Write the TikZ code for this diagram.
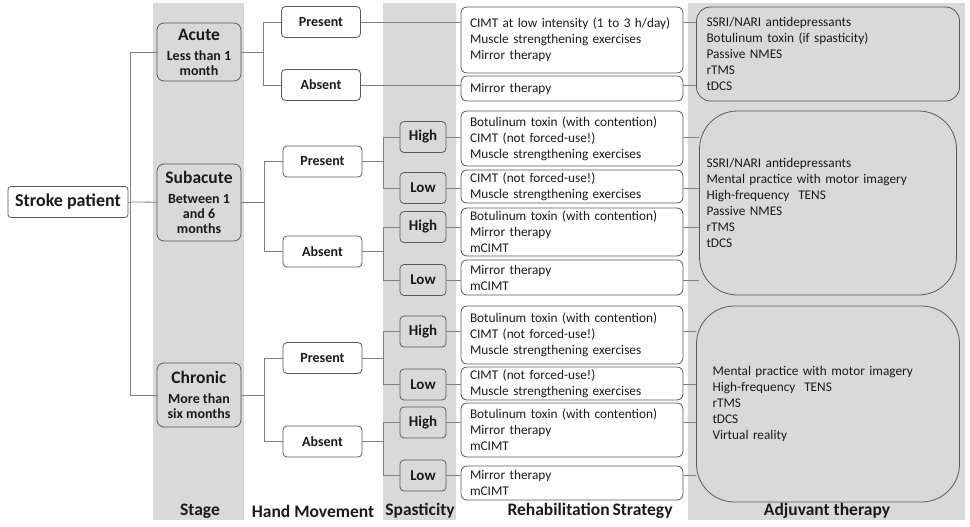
\documentclass[tikz,border=0pt]{standalone}
\usepackage{fontspec}
\setmainfont{Carlito}
\usetikzlibrary{shapes}
\definecolor{bandgrey}{HTML}{D9D9D9}
\definecolor{edgegrey}{HTML}{595959}
\definecolor{linegrey}{HTML}{7F7F7F}
\definecolor{inkgrey}{HTML}{1A1A1A}
\newcommand\stagefont{\fontsize{17.5}{20}\selectfont\bfseries}
\newcommand\stagesub{\fontsize{14}{15}\selectfont\bfseries}

\begin{document}
\begin{tikzpicture}[x=1pt,y=-1pt,text=inkgrey,
  root/.style={shape=rectangle,draw=edgegrey,line width=0.8pt,rounded corners=3pt,fill=white,minimum width=120pt,minimum height=31pt,font=\fontsize{18}{20}\selectfont\bfseries},
  stage/.style={shape=rectangle,draw=edgegrey,line width=0.8pt,rounded corners=7pt,fill=bandgrey,align=center,minimum width=84pt,inner sep=1pt,font=\stagesub},
  hand/.style={shape=rectangle,draw=edgegrey,line width=0.8pt,rounded corners=4pt,fill=white,minimum width=79pt,minimum height=31pt,font=\fontsize{14}{16}\selectfont\bfseries},
  spast/.style={shape=rectangle,draw=edgegrey,line width=0.8pt,rounded corners=4pt,fill=bandgrey,minimum width=46pt,minimum height=31pt,inner sep=1pt,font=\fontsize{15}{17}\selectfont\bfseries},
  rehab/.style={shape=rectangle,draw=edgegrey,line width=0.8pt,rounded corners=6pt,fill=white,text width=204pt,inner xsep=9pt,inner ysep=1pt,align=left,font=\fontsize{13.3}{16}\selectfont},
  adjuv/.style={shape=rectangle,draw=edgegrey,line width=0.8pt,fill=bandgrey,text width=243pt,inner xsep=10pt,align=left,font=\fontsize{13.3}{16}\selectfont},
  collabel/.style={font=\fontsize{17.5}{20}\selectfont\bfseries},
  conn/.style={-,draw=linegrey,line width=0.8pt},
  elbow/.style={to path={|- (\tikztotarget)}}]
\useasboundingbox (0,0) rectangle (970,527);

% column bands
\fill[bandgrey] (153,3) rectangle (244,520);
\fill[bandgrey] (383,3) rectangle (456,520);
\fill[bandgrey] (688,3) rectangle (965,520);

% stroke patient and stages
\node[root] (stroke) at (68,202) {Stroke patient};
\node[stage,minimum height=58pt] (acute) at (199,52) {{\stagefont Acute}\\[5pt]Less than 1\\month};
\node[stage,minimum height=77pt] (subacute) at (199,202.5) {{\stagefont Subacute}\\[5pt]Between 1\\and 6\\months};
\node[stage,minimum height=64pt] (chronic) at (199,395) {{\stagefont Chronic}\\[5pt]More than\\six months};

% hand movement
\node[hand] (ap) at (321,22) {Present};
\node[hand] (aa) at (321,85) {Absent};
\node[hand] (sp) at (322.5,161.5) {Present};
\node[hand] (sa) at (322.5,251.5) {Absent};
\node[hand] (cp) at (322.5,358) {Present};
\node[hand] (ca) at (322.5,441.5) {Absent};

% spasticity
\node[spast] (sph) at (423,137) {High};
\node[spast] (spl) at (423,188) {Low};
\node[spast] (sah) at (423,227) {High};
\node[spast] (sal) at (423,280) {Low};
\node[spast] (cph) at (423,331.5) {High};
\node[spast] (cpl) at (423,384.5) {Low};
\node[spast] (cah) at (423,422.5) {High};
\node[spast] (cal) at (423,475.5) {Low};

% rehabilitation strategy
\node[rehab,minimum height=66pt] (r1) at (572,40) {CIMT at low intensity (1 to 3 h/day)\\Muscle strengthening exercises\\Mirror therapy};
\node[rehab,minimum height=25pt] (r2) at (572,88.5) {Mirror therapy};
\node[rehab,minimum height=55pt] (r3) at (572,138.5) {Botulinum toxin (with contention)\\CIMT (not forced-use!)\\Muscle strengthening exercises};
\node[rehab,minimum height=33pt] (r4) at (572,186.5) {CIMT (not forced-use!)\\Muscle strengthening exercises};
\node[rehab,minimum height=48pt] (r5) at (572,232) {Botulinum toxin (with contention)\\Mirror therapy\\mCIMT};
\node[rehab,minimum height=35pt] (r6) at (572,277.5) {Mirror therapy\\mCIMT};
\node[rehab,minimum height=58pt] (r7) at (572,335) {Botulinum toxin (with contention)\\CIMT (not forced-use!)\\Muscle strengthening exercises};
\node[rehab,minimum height=33pt] (r8) at (572,383.5) {CIMT (not forced-use!)\\Muscle strengthening exercises};
\node[rehab,minimum height=54pt] (r9) at (572,430) {Botulinum toxin (with contention)\\Mirror therapy\\mCIMT};
\node[rehab,minimum height=34pt] (r10) at (572,483) {Mirror therapy\\mCIMT};

% adjuvant therapy
\node[adjuv,rounded corners=14pt,minimum height=94pt] (a1) at (828,54) {SSRI/NARI antidepressants\\Botulinum toxin (if spasticity)\\Passive NMES\\rTMS\\tDCS};
\node[adjuv,rounded corners=38pt,minimum height=184pt,inner xsep=7pt] (a2) at (828,203) {SSRI/NARI antidepressants\\Mental practice with motor imagery\\High-frequency\ \ TENS\\Passive NMES\\rTMS\\tDCS};
\node[adjuv,rounded corners=38pt,minimum height=196pt,inner xsep=16pt,text width=231pt] (a3) at (828,404) {Mental practice with motor imagery\\High-frequency\ \ TENS\\rTMS\\tDCS\\Virtual reality};

% column labels
\node[collabel] (lstage) at (200,511) {Stage};
\node[collabel] (lhand) at (313,511) {Hand Movement};
\node[collabel] (lspast) at (420,511) {Spasticity};
\node[collabel] (lrehab) at (590,511) {Rehabilitation\,Strategy};
\node[collabel] (ladjuv) at (827,511) {Adjuvant therapy};

% junctions
\coordinate (trunk) at (130,202);
\coordinate (acutej) at (263,52);
\coordinate (subacutej) at (264,202.5);
\coordinate (chronicj) at (264,395);
\coordinate (spj) at (383,161.5);
\coordinate (saj) at (383,251.5);
\coordinate (cpj) at (383,358);
\coordinate (caj) at (383,441.5);

% tree
\path [conn] (stroke) edge (trunk);
\path [conn] (trunk) edge[elbow] (acute);
\path [conn] (trunk) edge (subacute);
\path [conn] (trunk) edge[elbow] (chronic);

\path [conn] (acute) edge (acutej);
\path [conn] (acutej) edge[elbow] (ap);
\path [conn] (acutej) edge[elbow] (aa);
\path [conn] (subacute) edge (subacutej);
\path [conn] (subacutej) edge[elbow] (sp);
\path [conn] (subacutej) edge[elbow] (sa);
\path [conn] (chronic) edge (chronicj);
\path [conn] (chronicj) edge[elbow] (cp);
\path [conn] (chronicj) edge[elbow] (ca);

\path [conn] (sp) edge (spj);
\path [conn] (spj) edge[elbow] (sph);
\path [conn] (spj) edge[elbow] (spl);
\path [conn] (sa) edge (saj);
\path [conn] (saj) edge[elbow] (sah);
\path [conn] (saj) edge[elbow] (sal);
\path [conn] (cp) edge (cpj);
\path [conn] (cpj) edge[elbow] (cph);
\path [conn] (cpj) edge[elbow] (cpl);
\path [conn] (ca) edge (caj);
\path [conn] (caj) edge[elbow] (cah);
\path [conn] (caj) edge[elbow] (cal);

% into rehabilitation boxes
\path [conn] (ap.east) edge (ap.east -| r1.west);
\path [conn] (aa.east) edge (aa.east -| r2.west);
\path [conn] (sph.east) edge (sph.east -| r3.west);
\path [conn] (spl.east) edge (spl.east -| r4.west);
\path [conn] (sah.east) edge (sah.east -| r5.west);
\path [conn] (sal.east) edge (sal.east -| r6.west);
\path [conn] (cph.east) edge (cph.east -| r7.west);
\path [conn] (cpl.east) edge (cpl.east -| r8.west);
\path [conn] (cah.east) edge (cah.east -| r9.west);
\path [conn] (cal.east) edge (cal.east -| r10.west);

% into adjuvant boxes
\path [conn] (ap -| r1.east) edge (ap -| a1.west);
\path [conn] (aa -| r2.east) edge (aa -| a1.west);
\path [conn] (sph -| r3.east) edge (sph -| a2.west);
\path [conn] (spl -| r4.east) edge (spl -| a2.west);
\path [conn] (sah -| r5.east) edge (sah -| a2.west);
\path [conn] (sal -| r6.east) edge (sal -| a2.west);
\path [conn] (cph -| r7.east) edge (cph -| a3.west);
\path [conn] (cpl -| r8.east) edge (cpl -| a3.west);
\path [conn] (cah -| r9.east) edge (cah -| a3.west);
\path [conn] (cal -| r10.east) edge (cal -| a3.west);
\end{tikzpicture}
\end{document}
